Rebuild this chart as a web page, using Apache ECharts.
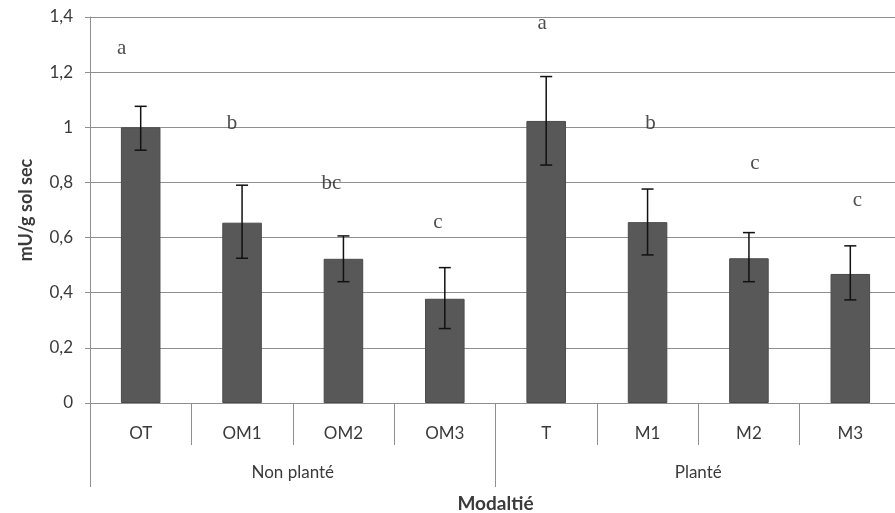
<!DOCTYPE html>
<html>
<head>
<meta charset="utf-8">
<script src="https://cdn.jsdelivr.net/npm/echarts@6/dist/echarts.min.js"></script>
<style>
html,body{margin:0;padding:0;background:#fff;}
#chart{width:895px;height:513px;}
</style>
</head>
<body>
<div id="chart"></div>
<script>
// ---- data ----
var categories = ['OT', 'OM1', 'OM2', 'OM3', 'T', 'M1', 'M2', 'M3'];
var groups = ['Non planté', 'Planté'];
var values = [1.00, 0.654, 0.523, 0.378, 1.023, 0.656, 0.525, 0.468];
var errLow = [0.917, 0.525, 0.440, 0.270, 0.863, 0.537, 0.440, 0.374];
var errHigh = [1.076, 0.790, 0.606, 0.491, 1.184, 0.776, 0.618, 0.570];
var letters = ['a', 'b', 'bc', 'c', 'a', 'b', 'c', 'c'];
var letterY = [1.285, 1.015, 0.795, 0.655, 1.375, 1.015, 0.87, 0.735];
var yTicks = [0, 0.2, 0.4, 0.6, 0.8, 1.0, 1.2, 1.4];

// ---- styling ----
var letterDx = [-19, -10, -12, -7, -4, 3, 6, 7];
var gridColor = '#8f8f8f';
var textColor = '#3a3a3a';
var uiFont = 'Lato';

var chart = echarts.init(document.getElementById('chart'));
chart.setOption({
  backgroundColor: '#ffffff',
  animation: false,
  grid: { left: 90, top: 17, right: -6, bottom: 110, containLabel: false, outerBoundsMode: 'none' },
  xAxis: [
    {
      type: 'category',
      data: categories,
      axisLine: { show: true, lineStyle: { color: gridColor, width: 1 } },
      axisTick: { show: true, length: 42, interval: 0, lineStyle: { color: gridColor } },
      axisLabel: { margin: 22, color: textColor, fontFamily: uiFont, fontSize: 17, interval: 0 }
    },
    {
      type: 'category',
      data: groups,
      position: 'bottom',
      gridIndex: 0,
      axisLine: { show: false },
      axisTick: { show: true, length: 84, interval: 0, lineStyle: { color: gridColor } },
      axisLabel: { margin: 61, color: textColor, fontFamily: uiFont, fontSize: 17, interval: 0 },
      name: 'Modaltié',
      nameLocation: 'middle',
      nameGap: 91,
      nameTextStyle: { color: textColor, fontFamily: uiFont, fontSize: 19, fontWeight: 'bold' }
    }
  ],
  yAxis: {
    type: 'value',
    min: yTicks[0],
    max: yTicks[yTicks.length - 1],
    interval: 0.2,
    name: 'mU/g sol sec',
    nameLocation: 'middle',
    nameGap: 55,
    nameRotate: 90,
    nameTextStyle: { color: textColor, fontFamily: uiFont, fontSize: 18, fontWeight: 'bold' },
    axisLine: { show: true, lineStyle: { color: gridColor } },
    axisTick: { show: true, length: 5, lineStyle: { color: gridColor } },
    splitLine: { show: true, lineStyle: { color: gridColor, width: 1 } },
    axisLabel: {
      margin: 17,
      color: textColor,
      fontFamily: uiFont,
      fontSize: 17,
      formatter: function (v) { return String(+v.toFixed(1)).replace('.', ','); }
    }
  },
  series: [
    {
      type: 'bar',
      data: values,
      barWidth: '39%',
      itemStyle: { color: '#585858', borderColor: '#4a4a4a', borderWidth: 1 },
      z: 2
    },
    {
      type: 'custom',
      data: categories.map(function (c, i) { return [i, errLow[i], errHigh[i]]; }),
      renderItem: function (params, api) {
        var lo = api.coord([api.value(0), api.value(1)]);
        var hi = api.coord([api.value(0), api.value(2)]);
        var hw = 6;
        var st = { stroke: '#111', lineWidth: 1.5 };
        return {
          type: 'group',
          children: [
            { type: 'line', shape: { x1: hi[0], y1: hi[1], x2: lo[0], y2: lo[1] }, style: st },
            { type: 'line', shape: { x1: hi[0] - hw, y1: hi[1], x2: hi[0] + hw, y2: hi[1] }, style: st },
            { type: 'line', shape: { x1: lo[0] - hw, y1: lo[1], x2: lo[0] + hw, y2: lo[1] }, style: st }
          ]
        };
      },
      z: 3
    },
    {
      type: 'scatter',
      data: categories.map(function (c, i) {
        return {
          value: [i, letterY[i]],
          label: { offset: [letterDx[i], 0] }
        };
      }),
      symbolSize: 0,
      label: {
        show: true,
        position: 'inside',
        color: '#222',
        fontFamily: 'Liberation Serif',
        fontSize: 21,
        formatter: function (p) { return letters[p.dataIndex]; }
      },
      z: 4
    }
  ]
});
</script>
</body>
</html>
